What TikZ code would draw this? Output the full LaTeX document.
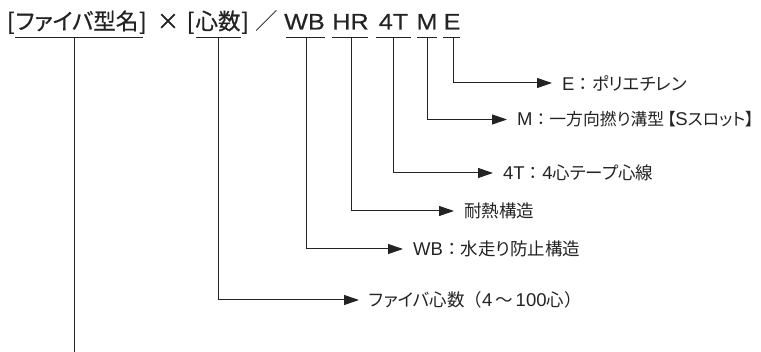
\documentclass[tikz,border=0pt]{standalone}
\usepackage{fontspec}
\setmainfont[RawFeature=+palt]{Noto Sans CJK JP}
\newfontfamily\jpfw{Noto Sans CJK JP}
\newfontfamily\topjp[RawFeature=+palt,FakeBold=0.6]{Noto Sans CJK JP}
\newfontfamily\toplat[FakeStretch=1.12,FakeBold=0.5]{Liberation Sans}
\newfontfamily\lat{Liberation Sans}
\usetikzlibrary{arrows.meta}
\definecolor{ink}{RGB}{35,35,35}
\tikzset{
  code/.style={inner sep=0pt, anchor=base, font=\fontsize{22.5}{26}\topjp, text=ink},
  codel/.style={code, font=\fontsize{22.5}{26}\toplat},
  brk/.style={code, font=\fontsize{24}{26}\lat},
  lab/.style={inner sep=0pt, anchor=west, font=\fontsize{17.5}{20}\selectfont, text=ink},
  uline/.style={draw=ink, line width=1pt},
  arr/.style={draw=ink, line width=1pt, -{Triangle[length=15pt,width=10pt]}, shorten >=10pt},
  plain/.style={draw=ink, line width=1pt}
}
\newcommand\lt[1]{{\fontsize{18.5}{20}\lat #1}}
\newcommand\fw[1]{{\jpfw #1}}
\begin{document}
\begin{tikzpicture}[x=1pt,y=-1pt]
\useasboundingbox (0,0) rectangle (761,352);
% top codes
\node[code] (ftype) at (77,29.5) {ファイバ型名};
\node[brk, anchor=base east] (lb1) at ([xshift=-1pt]ftype.base west) {[};
\node[brk, anchor=base west] (rb1) at ([xshift=1pt]ftype.base east) {]};
\node[code] (times) at (168,29.5) {×};
\node[code] (cores) at (218,29.5) {心数};
\node[brk, anchor=base east] (lb2) at ([xshift=-1pt]cores.base west) {[};
\node[brk, anchor=base west] (rb2) at ([xshift=1pt]cores.base east) {]};
\node[code, font=\fontsize{22.5}{26}\jpfw] (slash) at (267,29.5) {／};
\node[codel] (wb) at (304.5,29.5) {WB};
\node[codel] (hr) at (350.5,29.5) {HR};
\node[codel] (ft) at (393.5,29.5) {4T};
\node[codel] (m) at (427,29.5) {M};
\node[codel] (e) at (452,29.5) {E};
% underlines
\draw[uline] (15,37.5) -- (143,37.5);
\draw[uline] (196,37.5) -- (241,37.5);
\draw[uline] (286,37.5) -- (325,37.5);
\draw[uline] (332,37.5) -- (368,37.5);
\draw[uline] (376,37.5) -- (411,37.5);
\draw[uline] (417,37.5) -- (437,37.5);
\draw[uline] (443,37.5) -- (460,37.5);
% connector start points
\coordinate (ftypeu) at (74,37.5);
\coordinate (coresu) at (218,37.5);
\coordinate (wbu) at (306,37.5);
\coordinate (hru) at (351,37.5);
\coordinate (ftu) at (393,37.5);
\coordinate (mu) at (427,37.5);
\coordinate (eu) at (453,37.5);
\coordinate (fbot) at (74,352);
% labels
\node[lab] (elab) at (562,83) {\lt{E}\fw{：}ポリエチレン};
\node[lab, font=\fontsize{16.8}{20}\selectfont] (mlab) at (517,119.5) {\lt{M}\fw{：}一方向撚り溝型\,【\lt{S}スロット】};
\node[lab] (ftlab) at (503,173) {\lt{4T}\fw{：}\lt{4}心テープ心線};
\node[lab] (hrlab) at (464,211) {耐熱構造};
\node[lab] (wblab) at (413,249) {\lt{WB}\fw{：}水走り防止構造};
\node[lab] (coreslab) at (369,300) {ファイバ心数\fw{（}\lt{4}\,\fw{～}\,\lt{100}心\fw{）}};
% connectors
\draw[arr] (eu) |- (elab.west);
\draw[arr] (mu) |- (mlab.west);
\draw[arr] (ftu) |- (ftlab.west);
\draw[arr] (hru) |- (hrlab.west);
\draw[arr] (wbu) |- (wblab.west);
\draw[arr] (coresu) |- (coreslab.west);
\draw[plain] (ftypeu) -- (fbot);
\end{tikzpicture}
\end{document}
